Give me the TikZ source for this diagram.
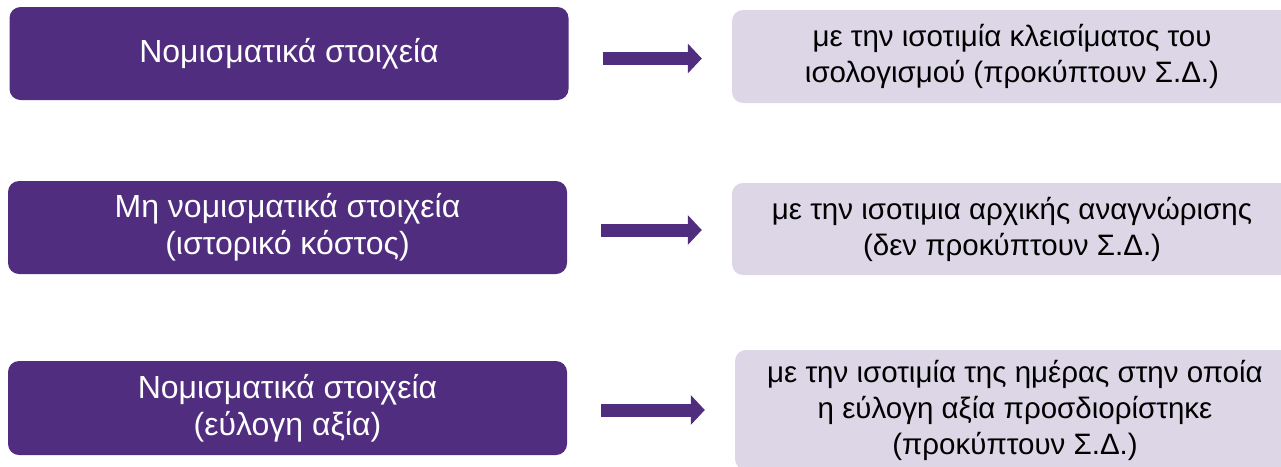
\documentclass[tikz,border=0pt]{standalone}
\usepackage{fontspec}
\setmainfont{Liberation Sans}
\usetikzlibrary{arrows.meta}
\definecolor{darkpurple}{RGB}{80,45,127}
\definecolor{lightlav}{RGB}{220,214,230}
\begin{document}
\begin{tikzpicture}[x=1pt,y=-1pt,
  leftbox/.style={fill=darkpurple, rounded corners=11pt, text=white, align=center,
    inner sep=0pt, minimum width=559pt, minimum height=93pt,
    font=\fontsize{32}{37}\selectfont},
  rightbox/.style={fill=lightlav, rounded corners=11pt, text=black, align=center,
    inner sep=0pt, minimum width=560pt, minimum height=93pt,
    font=\fontsize{29.5}{36}\selectfont},
  bigarrow/.style={draw=darkpurple, line width=13pt,
    -{Triangle[length=14pt,width=29pt]}, shorten <=34pt, shorten >=30pt}]
\useasboundingbox (0,0) rectangle (1281,466);
\node[leftbox] (L1) at (289,53.5) {Νομισματικά στοιχεία};
\node[leftbox] (L2) at (287.5,227.5) {Μη νομισματικά στοιχεία\\(ιστορικό κόστος)};
\node[leftbox, minimum height=94pt] (L3) at (287.5,408) {Νομισματικά στοιχεία\\(εύλογη αξία)};
\node[rightbox] (R1) at (1012,56.5) {με την ισοτιμία κλεισίματος του\\ισολογισμού (προκύπτουν Σ.Δ.)};
\node[rightbox, minimum height=92pt] (R2) at (1012,229) {με την ισοτιμια αρχικής αναγνώρισης\\(δεν προκύπτουν Σ.Δ.)};
\node[rightbox, minimum height=120pt] (R3) at (1015,410) {με την ισοτιμία της ημέρας στην οποία\\η εύλογη αξία προσδιορίστηκε\\(προκύπτουν Σ.Δ.)};
\draw[bigarrow] ([yshift=-5pt]L1.east) -- ([yshift=-5pt]L1.east -| R1.west);
\draw[bigarrow] ([yshift=-2.5pt]L2.east) -- ([yshift=-2.5pt]L2.east -| R2.west);
\draw[bigarrow] ([yshift=-2pt]L3.east) -- ([yshift=-2pt]L3.east -| R3.west);
\end{tikzpicture}
\end{document}
